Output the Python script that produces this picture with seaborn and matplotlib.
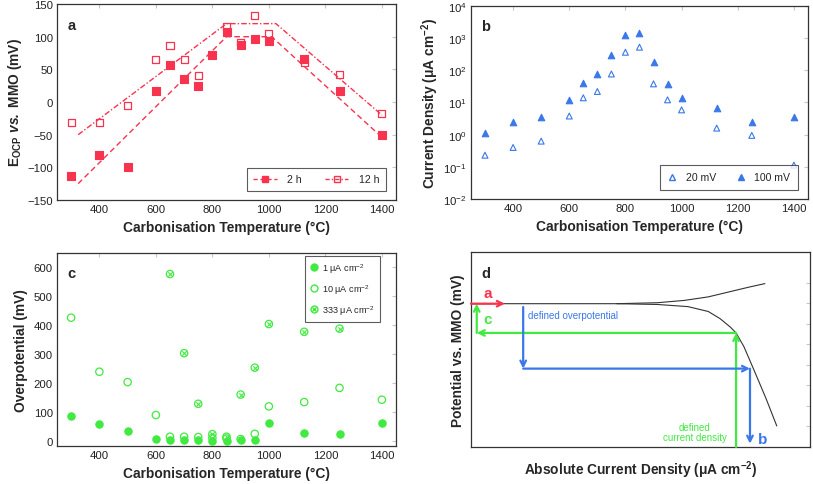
import numpy as np
import pandas as pd
import matplotlib
matplotlib.use('Agg')
import matplotlib.pyplot as plt
import seaborn as sns
from matplotlib.lines import Line2D

# ---- panel a: open circuit potential ----
temp_2h = [300, 400, 500, 600, 650, 700, 750, 800, 850, 900, 950, 1000, 1125, 1250, 1400]
ocp_2h = [-113, -81, -99, 17, 56, 36, 25, 72, 107, 87, 97, 94, 66, 17, -51]
temp_12h = [300, 400, 500, 600, 650, 700, 750, 850, 900, 950, 1000, 1125, 1250, 1400]
ocp_12h = [-31, -31, -6, 65, 86, 65, 41, 116, 91, 132, 105, 60, 42, -18]
guide_2h_x = [325, 850, 1010, 1395]
guide_2h_y = [-125, 100, 100, -52]
guide_12h_x = [325, 850, 1025, 1400]
guide_12h_y = [-50, 120, 120, -20]

# ---- panel b: current density ----
temp_b = [300, 400, 500, 600, 650, 700, 750, 800, 850, 900, 950, 1000, 1125, 1250, 1400]
cd_20mv = [0.23, 0.40, 0.63, 3.8, 14, 22, 77, 365, 524, 38, 12.1, 5.9, 1.6, 0.95, 0.113]
cd_100mv = [1.15, 2.5, 3.65, 11.8, 40, 79, 301, 1270, 1400, 187, 36.5, 14, 6.8, 2.43, 3.65]

# ---- panel c: overpotential ----
temp_c1 = [300, 400, 500, 600, 650, 700, 750, 800, 850, 900, 950, 1000, 1125, 1250, 1400]
eta_1 = [86, 59, 35, 5, 1, 1, 1, 0, 0, 1, 1, 61, 28, 23, 62]
temp_c10 = [300, 400, 500, 600, 650, 700, 750, 800, 850, 900, 950, 1000, 1125, 1250, 1400]
eta_10 = [426, 239, 203, 89, 14, 14, 13, 10, 8, 6, 24, 119, 134, 183, 142]
temp_c333 = [650, 700, 750, 800, 850, 900, 950, 1000, 1125, 1250]
eta_333 = [577, 303, 128, 23, 14, 160, 253, 404, 377, 388]

# ---- panel d: schematic polarisation curve (axes fraction units) ----
cath_x = [0.0, 0.43, 0.55, 0.64, 0.70, 0.735, 0.765, 0.782, 0.805, 0.833, 0.87, 0.902]
cath_y = [0.735, 0.735, 0.731, 0.72, 0.695, 0.658, 0.615, 0.585, 0.515, 0.402, 0.25, 0.108]
anod_x = [0.43, 0.55, 0.63, 0.70, 0.76, 0.82, 0.867]
anod_y = [0.735, 0.74, 0.752, 0.77, 0.795, 0.82, 0.838]

RED = '#f7334f'
BLUE = '#3a78ea'
GREEN = '#40ea40'
TICK_GREY = '#c8c8c8'

sns.set_style('white')
plt.rcParams['font.family'] = ['Liberation Sans', 'DejaVu Sans']
plt.rcParams['mathtext.fontset'] = 'custom'
plt.rcParams['mathtext.rm'] = 'Liberation Sans'
plt.rcParams['mathtext.it'] = 'Liberation Sans:italic'
plt.rcParams['mathtext.bf'] = 'Liberation Sans:bold'
plt.rcParams['mathtext.bfit'] = 'Liberation Sans:bold:italic'

LABEL_FS = 9.9
TICK_FS = 8.2
LEG_FS = 7.6

fig = plt.figure(figsize=(8.13, 4.85), dpi=100)
ax_a = fig.add_axes([0.0701, 0.5856, 0.417, 0.404])
ax_b = fig.add_axes([0.5793, 0.5876, 0.4145, 0.398])
ax_c = fig.add_axes([0.0701, 0.0784, 0.417, 0.398])
ax_d = fig.add_axes([0.5793, 0.0763, 0.417, 0.402])


def style_axes(ax):
    for sp in ax.spines.values():
        sp.set_color('#333333')
        sp.set_linewidth(0.9)
    ax.tick_params(axis='both', which='both', direction='in', length=3,
                   color=TICK_GREY, labelsize=TICK_FS, labelcolor='#222222',
                   top=True, right=True, pad=3)


def panel_letter(ax, letter):
    ax.text(0.03, 0.93, letter, transform=ax.transAxes, fontsize=10.5,
            fontweight='bold', va='top', ha='left')


# ---------------- a ----------------
sns.lineplot(x=guide_2h_x, y=guide_2h_y, ax=ax_a, color=RED, lw=1.0,
             linestyle=(0, (4, 2.5)))
sns.lineplot(x=guide_12h_x, y=guide_12h_y, ax=ax_a, color=RED, lw=1.0,
             linestyle=(0, (4, 1.5, 1, 1.5)))
sns.scatterplot(x=temp_2h, y=ocp_2h, ax=ax_a, marker='s', s=26, color=RED,
                edgecolor=RED, linewidth=0.8, zorder=3)
sns.scatterplot(x=temp_12h, y=ocp_12h, ax=ax_a, marker='s', s=26,
                fc='none', ec=RED, linewidth=0.9, zorder=3)
ax_a.set_xlim(250, 1450)
ax_a.set_ylim(-150, 150)
ax_a.set_xticks(range(400, 1401, 200))
ax_a.set_yticks(range(-150, 151, 50))
ax_a.set_yticklabels([f'{v}'.replace('-', '\u2212') for v in range(-150, 151, 50)])
ax_a.set_xlabel('Carbonisation Temperature (°C)', fontsize=LABEL_FS, fontweight='bold')
ax_a.set_ylabel(r'$\mathbf{E_{OCP}}$ $\mathbfit{vs.}$ MMO (mV)', fontsize=LABEL_FS,
                fontweight='bold', labelpad=2)
style_axes(ax_a)
panel_letter(ax_a, 'a')
h2 = Line2D([], [], color=RED, lw=1.0, linestyle=(0, (3, 2)), marker='s',
            markersize=4.5, markerfacecolor=RED, markeredgecolor=RED)
h12 = Line2D([], [], color=RED, lw=1.0, linestyle=(0, (3, 1.5, 1, 1.5)), marker='s',
             markersize=4.5, markerfacecolor='none', markeredgecolor=RED)
leg = ax_a.legend([h2, h12], ['2 h', '12 h'], ncol=2, loc='lower right',
                  fontsize=LEG_FS, frameon=True, fancybox=False, edgecolor='#333333',
                  handlelength=2.2, handletextpad=1.0, columnspacing=2.2, borderpad=0.6,
                  bbox_to_anchor=(0.985, 0.02))
leg.get_frame().set_linewidth(0.8)

# ---------------- b ----------------
sns.scatterplot(x=temp_b, y=cd_20mv, ax=ax_b, marker='^', s=18,
                fc='none', ec=BLUE, linewidth=0.8, zorder=3)
sns.scatterplot(x=temp_b, y=cd_100mv, ax=ax_b, marker='^', s=22, color=BLUE,
                edgecolor=BLUE, linewidth=0.8, zorder=3)
ax_b.set_yscale('log')
ax_b.set_xlim(250, 1450)
ax_b.set_ylim(1e-2, 1e4)
ax_b.set_xticks(range(400, 1401, 200))
ax_b.set_yticks([10.0 ** k for k in range(-2, 5)])
ax_b.set_yticklabels([rf'$10^{{{k}}}$'.replace('-', '\u2212') for k in range(-2, 5)])
ax_b.minorticks_off()
ax_b.set_xlabel('Carbonisation Temperature (°C)', fontsize=LABEL_FS, fontweight='bold')
ax_b.set_ylabel(r'Current Density (μA cm$^{\mathbf{-2}}$)', fontsize=LABEL_FS,
                fontweight='bold', labelpad=2)
style_axes(ax_b)
panel_letter(ax_b, 'b')
h20 = Line2D([], [], lw=0, marker='^', markersize=4.3, markerfacecolor='none',
             markeredgecolor=BLUE)
h100 = Line2D([], [], lw=0, marker='^', markersize=4.5, markerfacecolor=BLUE,
              markeredgecolor=BLUE)
leg = ax_b.legend([h20, h100], ['20 mV', '100 mV'], ncol=2, loc='lower right',
                  fontsize=LEG_FS, frameon=True, fancybox=False, edgecolor='#333333',
                  handlelength=1.0, handletextpad=0.8, columnspacing=1.8, borderpad=0.7,
                  bbox_to_anchor=(0.985, 0.02))
leg.get_frame().set_linewidth(0.8)

# ---------------- c ----------------
sns.scatterplot(x=temp_c1, y=eta_1, ax=ax_c, marker='o', s=28, color=GREEN,
                edgecolor=GREEN, linewidth=0.8, zorder=3)
sns.scatterplot(x=temp_c10, y=eta_10, ax=ax_c, marker='o', s=28,
                fc='none', ec=GREEN, linewidth=0.9, zorder=3)
sns.scatterplot(x=temp_c333, y=eta_333, ax=ax_c, marker='o', s=28,
                fc='none', ec=GREEN, linewidth=0.9, zorder=3)
sns.scatterplot(x=temp_c333, y=eta_333, ax=ax_c, marker='x', s=10, color=GREEN,
                linewidth=0.8, zorder=3)
ax_c.set_xlim(250, 1450)
ax_c.set_ylim(-18, 650)
ax_c.set_xticks(range(400, 1401, 200))
ax_c.set_yticks(range(0, 601, 100))
ax_c.set_xlabel('Carbonisation Temperature (°C)', fontsize=LABEL_FS, fontweight='bold')
ax_c.set_ylabel('Overpotential (mV)', fontsize=LABEL_FS, fontweight='bold', labelpad=4)
style_axes(ax_c)
panel_letter(ax_c, 'c')
hc1 = Line2D([], [], lw=0, marker='o', markersize=5, markerfacecolor=GREEN,
             markeredgecolor=GREEN)
hc10 = Line2D([], [], lw=0, marker='o', markersize=5, markerfacecolor='none',
              markeredgecolor=GREEN)
hc333x = Line2D([], [], lw=0, marker='x', markersize=3, markeredgecolor=GREEN)
leg = ax_c.legend([hc1, hc10, (hc10, hc333x)],
                  [r'1 μA cm$^{-2}$', r'10 μA cm$^{-2}$', r'333 μA cm$^{-2}$'],
                  loc='upper right', fontsize=6.6, frameon=True, fancybox=False,
                  edgecolor='#333333', handlelength=0.7, handletextpad=0.6,
                  labelspacing=0.8, borderpad=0.55, borderaxespad=0.0,
                  bbox_to_anchor=(0.953, 0.985))
leg.get_frame().set_linewidth(0.8)

# ---------------- d ----------------
sns.lineplot(x=cath_x, y=cath_y, ax=ax_d, color='#333333', lw=0.8, sort=False)
sns.lineplot(x=anod_x, y=anod_y, ax=ax_d, color='#333333', lw=0.8, sort=False)
ax_d.set_xlim(0, 1)
ax_d.set_ylim(0, 1)
ax_d.set_xticks([])
ax_d.set_yticks(np.linspace(0.108, 0.841, 8))
ax_d.tick_params(axis='y', which='both', direction='in', length=3, color=TICK_GREY,
                 left=False, right=True, labelleft=False)
for sp in ax_d.spines.values():
    sp.set_color('#333333')
    sp.set_linewidth(0.9)


def arrow(ax, x0, y0, x1, y1, color):
    ax.annotate('', xy=(x1, y1), xytext=(x0, y0), xycoords='data',
                arrowprops=dict(arrowstyle='->', color=color, lw=1.6,
                                shrinkA=0, shrinkB=0, mutation_scale=10))


arrow(ax_d, 0.0, 0.735, 0.1, 0.735, RED)
arrow(ax_d, 0.782, 0.0, 0.782, 0.585, GREEN)
arrow(ax_d, 0.782, 0.585, 0.017, 0.585, GREEN)
arrow(ax_d, 0.017, 0.585, 0.017, 0.735, GREEN)
arrow(ax_d, 0.154, 0.718, 0.154, 0.402, BLUE)
arrow(ax_d, 0.154, 0.402, 0.823, 0.402, BLUE)
arrow(ax_d, 0.823, 0.402, 0.823, 0.017, BLUE)
ax_d.text(0.05, 0.79, 'a', color=RED, fontsize=11, fontweight='bold', ha='center', va='center')
ax_d.text(0.048, 0.655, 'c', color=GREEN, fontsize=11, fontweight='bold', ha='center', va='center')
ax_d.text(0.86, 0.04, 'b', color=BLUE, fontsize=11, fontweight='bold', ha='center', va='center')
ax_d.text(0.168, 0.678, 'defined overpotential', color=BLUE, fontsize=7,
          ha='left', va='center')
ax_d.text(0.66, 0.077, 'defined\ncurrent density', color=GREEN, fontsize=7,
          ha='center', va='center', linespacing=1.1)
ax_d.set_xlabel(r'Absolute Current Density (μA cm$^{\mathbf{-2}}$)', fontsize=LABEL_FS,
                fontweight='bold', labelpad=8)
ax_d.set_ylabel('Potential vs. MMO (mV)', fontsize=LABEL_FS, fontweight='bold', labelpad=4)
ax_d.text(0.03, 0.93, 'd', transform=ax_d.transAxes, fontsize=10.5, fontweight='bold',
          va='top', ha='left')

fig.savefig('out.png', dpi=100)
